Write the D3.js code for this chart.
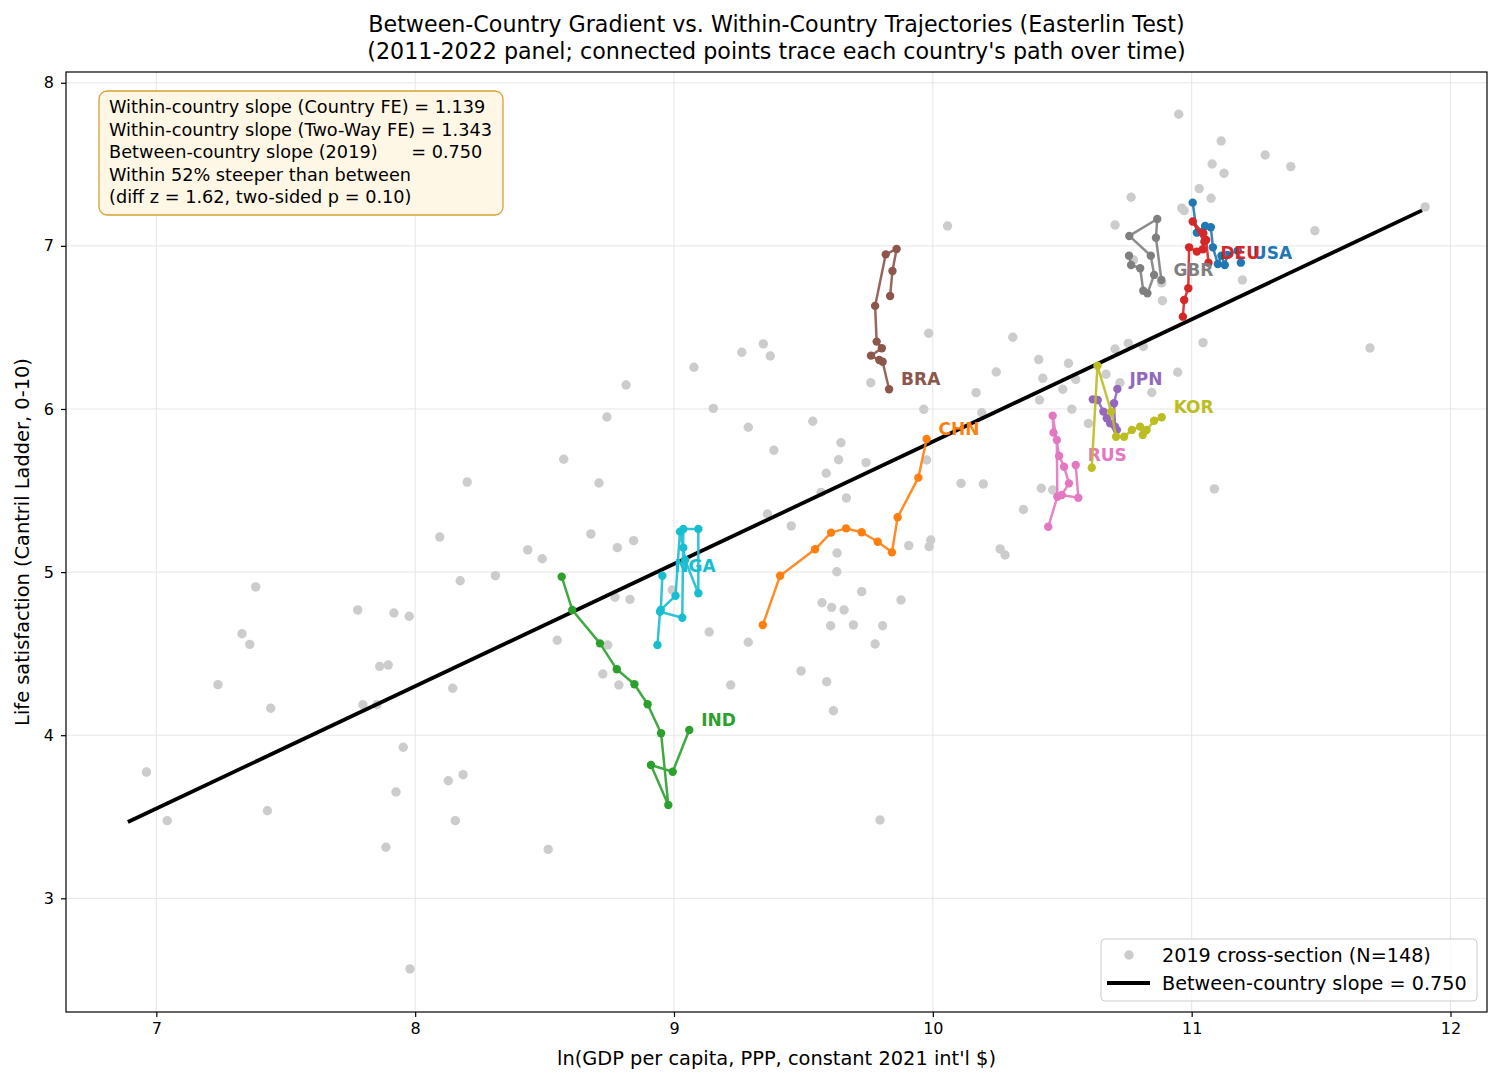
<!DOCTYPE html>
<html>
<head>
<meta charset="utf-8">
<script src="https://cdn.jsdelivr.net/npm/d3@7"></script>
<style>
  body { margin: 0; background: #fff; }
  svg text { font-family: "DejaVu Sans", sans-serif; fill: #000; }
</style>
</head>
<body>
<script>
// 2019 cross-section: ln(GDP pc) and life ladder
var crossGdp = [6.962,7.042,7.238,7.331,7.361,7.384,7.429,7.442,7.778,7.798,7.852,7.863,7.887,7.896,7.918,7.926,7.954,7.977,7.980,8.095,
  8.128,8.145,8.155,8.174,8.185,8.201,8.310,8.435,8.491,8.514,8.549,8.574,8.679,8.710,8.725,8.741,8.744,8.772,8.781,8.787,
  8.815,8.830,8.844,8.993,9.077,9.136,9.152,9.219,9.262,9.287,9.287,9.345,9.361,9.372,9.386,9.453,9.491,9.536,9.568,9.572,
  9.588,9.590,9.605,9.609,9.616,9.629,9.630,9.636,9.645,9.657,9.666,9.693,9.725,9.742,9.760,9.777,9.796,9.806,9.877,9.907,
  9.965,9.976,9.984,9.986,9.992,10.057,10.109,10.167,10.189,10.195,10.245,10.260,10.279,10.309,10.350,10.409,10.412,10.419,10.425,10.463,
  10.502,10.524,10.537,10.552,10.601,10.669,10.704,10.723,10.755,10.813,10.846,10.946,11.044,11.088,10.704,10.766,10.775,10.884,10.887,10.950,
  10.962,10.971,11.029,11.075,11.079,11.114,11.125,11.196,11.284,11.383,11.476,11.689,11.902];
var crossLadder = [3.774,3.476,4.310,4.622,4.557,4.909,3.537,4.165,4.768,4.187,4.187,4.422,3.313,4.430,4.749,3.652,3.926,4.729,2.567,5.215,
  3.721,4.288,3.476,4.947,3.758,5.552,4.978,5.136,5.082,3.300,4.582,5.692,5.234,5.546,4.375,5.951,4.553,4.846,5.150,4.308,
  6.147,4.833,5.193,4.890,6.256,4.633,6.004,4.308,6.348,5.888,4.570,6.399,5.356,6.325,5.747,5.283,4.394,5.925,5.489,4.812,
  5.606,4.328,4.671,4.784,4.150,5.002,5.117,5.689,5.793,4.768,5.454,4.676,4.880,5.671,6.161,4.559,3.480,4.671,4.829,5.162,
  5.998,5.687,6.464,5.156,5.197,7.122,5.544,6.100,5.977,5.540,6.227,5.142,5.105,6.440,5.384,6.303,6.055,5.514,6.188,5.503,
  6.121,6.280,5.999,6.181,5.911,6.213,6.368,6.161,6.402,6.383,6.101,6.225,6.407,5.510,7.128,7.298,6.914,6.773,6.664,7.807,
  7.231,7.216,7.351,7.292,7.502,7.643,7.445,6.791,7.557,7.486,7.093,6.374,7.239];

// between-country fit
var betweenSlope = 0.750;
var betweenIntercept = -1.70;
var betweenRange = [6.89, 11.89];

// country trajectories 2011-2022, [ln GDP, ladder]
var countryCodes = ["USA","CHN","IND","DEU","JPN","BRA","RUS","GBR","KOR","NGA"];
var countryColors = ["#1f77b4","#ff7f0e","#2ca02c","#d62728","#9467bd","#8c564b","#e377c2","#7f7f7f","#bcbd22","#17becf"];
var USA = [[11.004,7.265],[11.020,7.081],[11.052,7.122],[11.074,7.114],[11.082,6.991],[11.101,6.889],[11.115,6.940],[11.128,6.883],[11.138,6.944],[11.178,6.971],[11.190,6.897]];
var CHN = [[9.343,4.676],[9.410,4.978],[9.545,5.140],[9.607,5.242],[9.665,5.268],[9.725,5.244],[9.787,5.186],[9.842,5.121],[9.864,5.336],[9.944,5.579],[9.976,5.816]];
var IND = [[8.566,4.972],[8.607,4.768],[8.714,4.563],[8.779,4.404],[8.847,4.312],[8.898,4.190],[8.950,4.012],[8.978,3.572],[8.911,3.817],[8.995,3.776],[9.059,4.032]];
var DEU = [[10.966,6.566],[10.971,6.668],[10.987,6.740],[10.990,6.991],[11.020,6.965],[11.043,6.979],[11.049,7.026],[11.004,7.149],[11.045,7.077],[11.056,7.036],[11.065,6.897]];
var JPN = [[10.618,6.059],[10.637,6.055],[10.659,5.984],[10.672,5.943],[10.685,5.912],[10.711,5.871],[10.704,5.892],[10.700,6.035],[10.713,6.123]];
var BRA = [[9.835,6.693],[9.844,6.846],[9.860,6.981],[9.818,6.948],[9.777,6.632],[9.783,6.413],[9.803,6.372],[9.761,6.327],[9.793,6.300],[9.806,6.290],[9.831,6.121]];
var RUS = [[10.446,5.278],[10.481,5.462],[10.479,5.810],[10.466,5.855],[10.463,5.959],[10.488,5.712],[10.507,5.646],[10.526,5.544],[10.498,5.473],[10.562,5.456],[10.552,5.657]];
var GBR = [[10.758,6.940],[10.766,6.883],[10.801,6.863],[10.813,6.725],[10.829,6.709],[10.855,6.822],[10.842,6.940],[10.759,7.061],[10.867,7.165],[10.862,7.050],[10.883,6.791]];
var KOR = [[10.614,5.640],[10.636,6.265],[10.689,5.984],[10.708,5.830],[10.739,5.830],[10.769,5.871],[10.801,5.892],[10.811,5.841],[10.826,5.871],[10.855,5.928],[10.884,5.949]];
var NGA = [[8.936,4.553],[8.946,4.757],[9.032,4.720],[9.036,5.264],[9.094,5.264],[9.094,4.870],[9.043,5.074],[9.036,5.150],[9.023,5.248],[9.006,4.855],[8.949,4.768],[8.955,4.978]];
var trajectories = [USA, CHN, IND, DEU, JPN, BRA, RUS, GBR, KOR, NGA];

var xTicks = [7, 8, 9, 10, 11, 12];
var yTicks = [3, 4, 5, 6, 7, 8];
var statLines = [
  "Within-country slope (Country FE) = 1.139",
  "Within-country slope (Two-Way FE) = 1.343",
  "Between-country slope (2019)      = 0.750",
  "Within 52% steeper than between",
  "(diff z = 1.62, two-sided p = 0.10)"
];

//画布与坐标区
var W = 1500, H = 1085;
var plot = {left: 66, right: 1487, top: 72, bottom: 1012};

var svg = d3.select("body").append("svg")
  .attr("width", W)
  .attr("height", H);

var x = d3.scaleLinear().domain([6.651, 12.141]).range([plot.left, plot.right]);
var y = d3.scaleLinear().domain([2.303, 8.066]).range([plot.bottom, plot.top]);

// grid
var grid = svg.append("g").attr("stroke", "#e6e6e6").attr("stroke-width", 1);
grid.selectAll(".gx").data(xTicks).enter().append("line")
  .attr("x1", function(d){ return x(d); }).attr("x2", function(d){ return x(d); })
  .attr("y1", plot.top).attr("y2", plot.bottom);
grid.selectAll(".gy").data(yTicks).enter().append("line")
  .attr("y1", function(d){ return y(d); }).attr("y2", function(d){ return y(d); })
  .attr("x1", plot.left).attr("x2", plot.right);

// cross-section dots
var cross = d3.zip(crossGdp, crossLadder);
svg.append("g").selectAll("circle").data(cross).enter().append("circle")
  .attr("cx", function(d){ return x(d[0]); })
  .attr("cy", function(d){ return y(d[1]); })
  .attr("r", 4.7)
  .attr("fill", "#cccccc");

// between-country line
var fitLine = d3.line()
  .x(function(d){ return x(d); })
  .y(function(d){ return y(betweenIntercept + betweenSlope * d); });
svg.append("path").datum(betweenRange)
  .attr("d", fitLine)
  .attr("fill", "none").attr("stroke", "#000").attr("stroke-width", 3.8);

// trajectories
var path = d3.line().x(function(d){ return x(d[0]); }).y(function(d){ return y(d[1]); });
trajectories.forEach(function(t, i) {
  var col = countryColors[i];
  var g = svg.append("g");
  g.append("path").datum(t).attr("d", path)
    .attr("fill", "none").attr("stroke", col).attr("stroke-width", 2.5)
    .attr("stroke-opacity", 0.9).attr("stroke-linejoin", "round");
  g.selectAll("circle").data(t).enter().append("circle")
    .attr("cx", function(d){ return x(d[0]); })
    .attr("cy", function(d){ return y(d[1]); })
    .attr("r", 4.2).attr("fill", col);
  var last = t[t.length - 1];
  g.append("text")
    .attr("x", x(last[0]) + 12)
    .attr("y", y(last[1]) - 10)
    .attr("dominant-baseline", "central")
    .attr("font-size", 17).attr("font-weight", "bold")
    .style("fill", col)
    .text(countryCodes[i]);
});

// frame
svg.append("rect")
  .attr("x", plot.left).attr("y", plot.top)
  .attr("width", plot.right - plot.left).attr("height", plot.bottom - plot.top)
  .attr("fill", "none").attr("stroke", "#000").attr("stroke-width", 1.2);

// axes
var xAxis = svg.append("g")
  .attr("transform", "translate(0," + plot.bottom + ")")
  .call(d3.axisBottom(x).tickValues(xTicks).tickSize(5).tickPadding(6).tickFormat(d3.format("d")));
var yAxis = svg.append("g")
  .attr("transform", "translate(" + plot.left + ",0)")
  .call(d3.axisLeft(y).tickValues(yTicks).tickSize(5).tickPadding(7).tickFormat(d3.format("d")));
[xAxis, yAxis].forEach(function(a) {
  a.attr("font-size", 16).attr("font-family", "DejaVu Sans");
  a.select(".domain").remove();
  a.selectAll(".tick line").attr("stroke", "#000").attr("stroke-width", 1.2);
  a.selectAll(".tick text").attr("font-size", 16).style("fill", "#000");
});

// axis labels
svg.append("text")
  .attr("x", (plot.left + plot.right) / 2).attr("y", 1058)
  .attr("text-anchor", "middle").attr("dominant-baseline", "central")
  .attr("font-size", 19.4)
  .text("ln(GDP per capita, PPP, constant 2021 int'l $)");
svg.append("text")
  .attr("transform", "translate(22," + ((plot.top + plot.bottom) / 2) + ") rotate(-90)")
  .attr("text-anchor", "middle").attr("dominant-baseline", "central")
  .attr("font-size", 19.4)
  .text("Life satisfaction (Cantril Ladder, 0-10)");

// title
svg.append("text")
  .attr("x", (plot.left + plot.right) / 2).attr("y", 24)
  .attr("text-anchor", "middle").attr("dominant-baseline", "central")
  .attr("font-size", 22.2)
  .text("Between-Country Gradient vs. Within-Country Trajectories (Easterlin Test)");
svg.append("text")
  .attr("x", (plot.left + plot.right) / 2).attr("y", 51)
  .attr("text-anchor", "middle").attr("dominant-baseline", "central")
  .attr("font-size", 22.2)
  .text("(2011-2022 panel; connected points trace each country's path over time)");

// stats box
svg.append("rect")
  .attr("x", 99).attr("y", 91).attr("width", 404).attr("height", 124)
  .attr("rx", 8).attr("ry", 8)
  .attr("fill", "#fff7e6").attr("stroke", "#d6a231").attr("stroke-width", 1.3);
svg.append("g").selectAll("text").data(statLines).enter().append("text")
  .attr("x", 109)
  .attr("y", function(d, i){ return 107 + i * 22.5; })
  .attr("dominant-baseline", "central")
  .attr("font-size", 17.7)
  .style("white-space", "pre")
  .text(function(d){ return d; });

// legend
var lg = svg.append("g");
lg.append("rect")
  .attr("x", 1101).attr("y", 939).attr("width", 376).attr("height", 62)
  .attr("rx", 4).attr("ry", 4)
  .attr("fill", "#fff").attr("fill-opacity", 0.8)
  .attr("stroke", "#cccccc").attr("stroke-width", 1);
lg.append("circle").attr("cx", 1129).attr("cy", 955).attr("r", 4.7).attr("fill", "#cccccc");
lg.append("line").attr("x1", 1107).attr("x2", 1150).attr("y1", 983).attr("y2", 983)
  .attr("stroke", "#000").attr("stroke-width", 3.8);
lg.append("text").attr("x", 1162).attr("y", 955).attr("dominant-baseline", "central")
  .attr("font-size", 19.2).text("2019 cross-section (N=148)");
lg.append("text").attr("x", 1162).attr("y", 983).attr("dominant-baseline", "central")
  .attr("font-size", 19.2).text("Between-country slope = 0.750");
</script>
</body>
</html>
